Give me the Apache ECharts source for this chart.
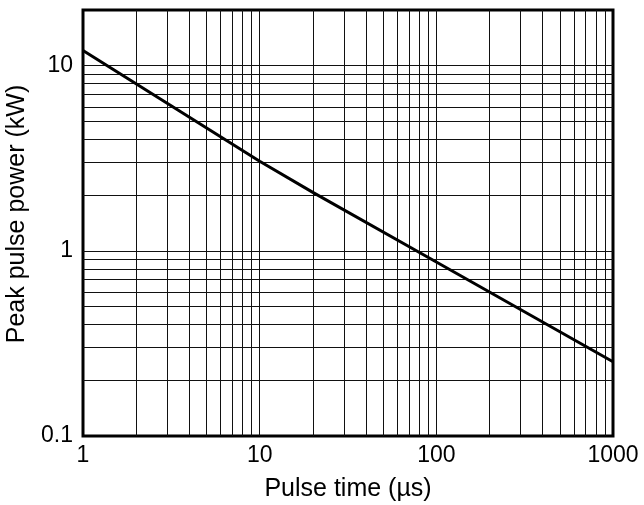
<!DOCTYPE html>
<html>
<head>
<meta charset="utf-8">
<script src="https://cdn.jsdelivr.net/npm/echarts@6/dist/echarts.min.js"></script>
<style>
  html, body { margin: 0; padding: 0; background: #fff; }
  #chart { width: 644px; height: 505px; }
</style>
</head>
<body>
<div id="chart"></div>
<script>
// pulse time (us) vs peak pulse power (kW)
const pulseTime = [1, 10, 20, 100, 1000]
const peakPower = [12.1, 3.05, 2.07, 0.87, 0.252]

// grid lines (1..9 per decade)
const xGridValues = [2, 3, 4, 5, 6, 7, 8, 9, 10, 20, 30, 40, 50, 60, 70, 80, 90, 100, 200, 300, 400, 500, 600, 700, 800, 900]
const yGridValues = [0.2, 0.3, 0.4, 0.5, 0.6, 0.7, 0.8, 0.9, 1, 2, 3, 4, 5, 6, 7, 8, 9, 10]

const xTickLabels = [1, 10, 100, 1000]
const yTickLabels = [0.1, 1, 10]

const font = "'Liberation Sans', Arial, sans-serif"

const chart = echarts.init(document.getElementById('chart'), null, { renderer: 'canvas' })

const gridLines = []
xGridValues.forEach(v => gridLines.push({ xAxis: v }))
yGridValues.forEach(v => gridLines.push({ yAxis: v }))

chart.setOption({
  animation: false,
  backgroundColor: '#fff',
  grid: {
    left: 83,
    right: 31,
    top: 10,
    bottom: 69,
    outerBoundsMode: 'none',
    containLabel: false,
    show: true,
    borderColor: '#000',
    borderWidth: 3,
    backgroundColor: 'transparent'
  },
  xAxis: {
    type: 'log',
    logBase: 10,
    min: 1,
    max: 1000,
    name: 'Pulse time (µs)',
    nameLocation: 'middle',
    nameGap: 41,
    nameTextStyle: { fontFamily: font, fontSize: 25, color: '#000' },
    axisLine: { show: false },
    axisTick: { show: false },
    splitLine: { show: false },
    axisLabel: {
      fontFamily: font,
      fontSize: 23,
      color: '#000',
      margin: 8,
      formatter: v => (xTickLabels.some(t => Math.abs(t - v) < 1e-6 * t) ? String(v) : '')
    }
  },
  yAxis: {
    type: 'log',
    logBase: 10,
    min: 0.1,
    max: 20,
    name: 'Peak pulse power (kW)',
    nameLocation: 'middle',
    nameGap: 53,
    nameTextStyle: { fontFamily: font, fontSize: 25, color: '#000', padding: [0, 0, 0, 18] },
    axisLine: { show: false },
    axisTick: { show: false },
    splitLine: { show: false },
    axisLabel: {
      fontFamily: font,
      fontSize: 23,
      color: '#000',
      margin: 10,
      showMaxLabel: false,
      formatter: v => {
        const hit = yTickLabels.find(t => Math.abs(t - v) < 1e-6 * t)
        return hit === undefined ? '' : String(hit)
      }
    }
  },
  series: [{
    type: 'line',
    data: pulseTime.map((t, i) => [t, peakPower[i]]),
    symbol: 'none',
    lineStyle: { color: '#000', width: 3 },
    z: 5,
    markLine: {
      silent: true,
      symbol: 'none',
      label: { show: false },
      lineStyle: { color: '#111', width: 1, type: 'solid', opacity: 1 },
      data: gridLines
    }
  }]
})
</script>
</body>
</html>
